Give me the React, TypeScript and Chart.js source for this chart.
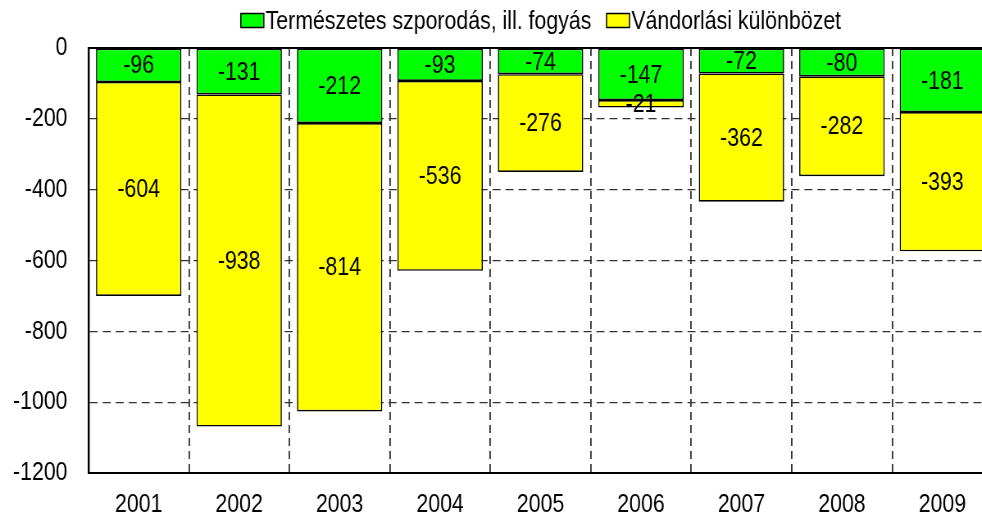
import React, { useEffect, useRef } from "react";
import { Chart, registerables } from "chart.js";

Chart.register(...registerables);

const categories = ["2001", "2002", "2003", "2004", "2005", "2006", "2007", "2008", "2009"];
const naturalValues = [-96, -131, -212, -93, -74, -147, -72, -80, -181];
const migrationValues = [-604, -938, -814, -536, -276, -21, -362, -282, -393];
const seriesNames = ["Természetes szporodás, ill. fogyás", "Vándorlási különbözet"];
const seriesColors = ["#00FF00", "#FFFF00"];
const yMin = -1200;
const yMax = 0;
const yStep = 200;

// The reference uses a narrow typeface; the canvas is drawn wider and shown
// horizontally compressed to imitate it.
const SX = 0.82;
const CSS_W = 1000;
const CSS_H = 515;
const INT_W = Math.round(CSS_W / SX);

const FONT = "'Liberation Sans', Arial, sans-serif";

const valueLabels = {
  id: "valueLabels",
  afterDatasetsDraw(chart: any) {
    const ctx = chart.ctx;
    ctx.save();
    ctx.font = `26px ${FONT}`;
    ctx.fillStyle = "#000";
    ctx.textAlign = "center";
    ctx.textBaseline = "middle";
    chart.data.datasets.forEach((ds: any, di: number) => {
      const meta = chart.getDatasetMeta(di);
      meta.data.forEach((el: any, i: number) => {
        const v = ds.data[i];
        const cy = (el.y + el.base) / 2;
        ctx.fillText(String(v), el.x, cy + 1);
      });
    });
    ctx.restore();
  },
};

const customLegend = {
  id: "customLegend",
  afterDraw(chart: any) {
    const ctx = chart.ctx;
    const ca = chart.chartArea;
    ctx.save();
    ctx.font = `26px ${FONT}`;
    ctx.textBaseline = "middle";
    ctx.textAlign = "left";
    const boxW = 23 / SX;
    const boxH = 14;
    const gap = 1 / SX;
    const itemGap = 16 / SX;
    const widths = seriesNames.map((t) => ctx.measureText(t).width);
    const total = widths.reduce((a, w) => a + boxW + gap + w, 0) + itemGap * (seriesNames.length - 1);
    let x = (ca.left + ca.right) / 2 - total / 2;
    const cy = 20.5;
    seriesNames.forEach((t, i) => {
      ctx.fillStyle = seriesColors[i];
      ctx.fillRect(x, cy - boxH / 2, boxW, boxH);
      ctx.strokeStyle = "#000";
      ctx.lineWidth = 1.5;
      ctx.strokeRect(x, cy - boxH / 2, boxW, boxH);
      ctx.fillStyle = "#000";
      ctx.fillText(t, x + boxW + gap + 1, cy + 1);
      x += boxW + gap + widths[i] + itemGap;
    });
    ctx.restore();
  },
};

export default function App() {
  const ref = useRef<HTMLCanvasElement>(null);
  useEffect(() => {
    if (!ref.current) return;
    const chart = new Chart(ref.current, {
      type: "bar",
      data: {
        labels: categories,
        datasets: [
          {
            label: seriesNames[0],
            data: naturalValues,
            backgroundColor: seriesColors[0],
            borderColor: "#000",
            borderWidth: 1.6,
            borderSkipped: false,
            stack: "s",
          },
          {
            label: seriesNames[1],
            data: migrationValues,
            backgroundColor: seriesColors[1],
            borderColor: "#000",
            borderWidth: 1.6,
            borderSkipped: false,
            stack: "s",
          },
        ],
      },
      options: {
        responsive: false,
        devicePixelRatio: 1,
        animation: false,
        layout: { padding: { top: 48, right: INT_W - 993 / SX, left: 0, bottom: 0 } },
        datasets: { bar: { barPercentage: 0.85, categoryPercentage: 1 } },
        plugins: {
          legend: { display: false },
          tooltip: { enabled: false },
          title: { display: false },
        },
        scales: {
          x: {
            stacked: true,
            position: "bottom",
            grid: {
              offset: true,
              drawTicks: false,
              color: (c: any) => (c.index === 0 ? "rgba(0,0,0,0)" : "#333333"),
              lineWidth: 1.5 / SX,
            },
            border: { display: true, color: "#000", width: 2, dash: [8, 5] },
            ticks: {
              color: "#000",
              font: { family: FONT, size: 26 },
              padding: 16,
              maxRotation: 0,
              autoSkip: false,
            },
            afterFit: (s: any) => {
              s.height = 42;
            },
          },
          xTop: {
            position: "top",
            grid: { display: false, drawTicks: false },
            border: { display: true, color: "#000", width: 2 },
            ticks: { display: false },
            afterFit: (s: any) => {
              s.height = 0;
            },
          },
          y: {
            stacked: true,
            min: yMin,
            max: yMax,
            grid: {
              drawTicks: false,
              color: (c: any) =>
                c.tick && (c.tick.value === yMin || c.tick.value === yMax) ? "rgba(0,0,0,0)" : "#333333",
              lineWidth: 1.3,
            },
            border: { display: true, color: "#000", width: 2 / SX, dash: [8 / SX, 5 / SX] },
            ticks: {
              stepSize: yStep,
              color: "#000",
              font: { family: FONT, size: 26 },
              padding: 21 / SX,
              callback: (v: any) => String(v),
            },
            afterFit: (s: any) => {
              s.width = 88.5 / SX;
            },
          },
        },
      },
      plugins: [valueLabels, customLegend],
    });
    return () => chart.destroy();
  }, []);
  return (
    <div style={{ position: "absolute", left: 0, top: 0, width: 982, height: 515, overflow: "hidden", background: "#fff" }}>
      <canvas
        ref={ref}
        width={INT_W}
        height={CSS_H}
        style={{ display: "block", width: `${CSS_W}px`, height: `${CSS_H}px` }}
      />
    </div>
  );
}
